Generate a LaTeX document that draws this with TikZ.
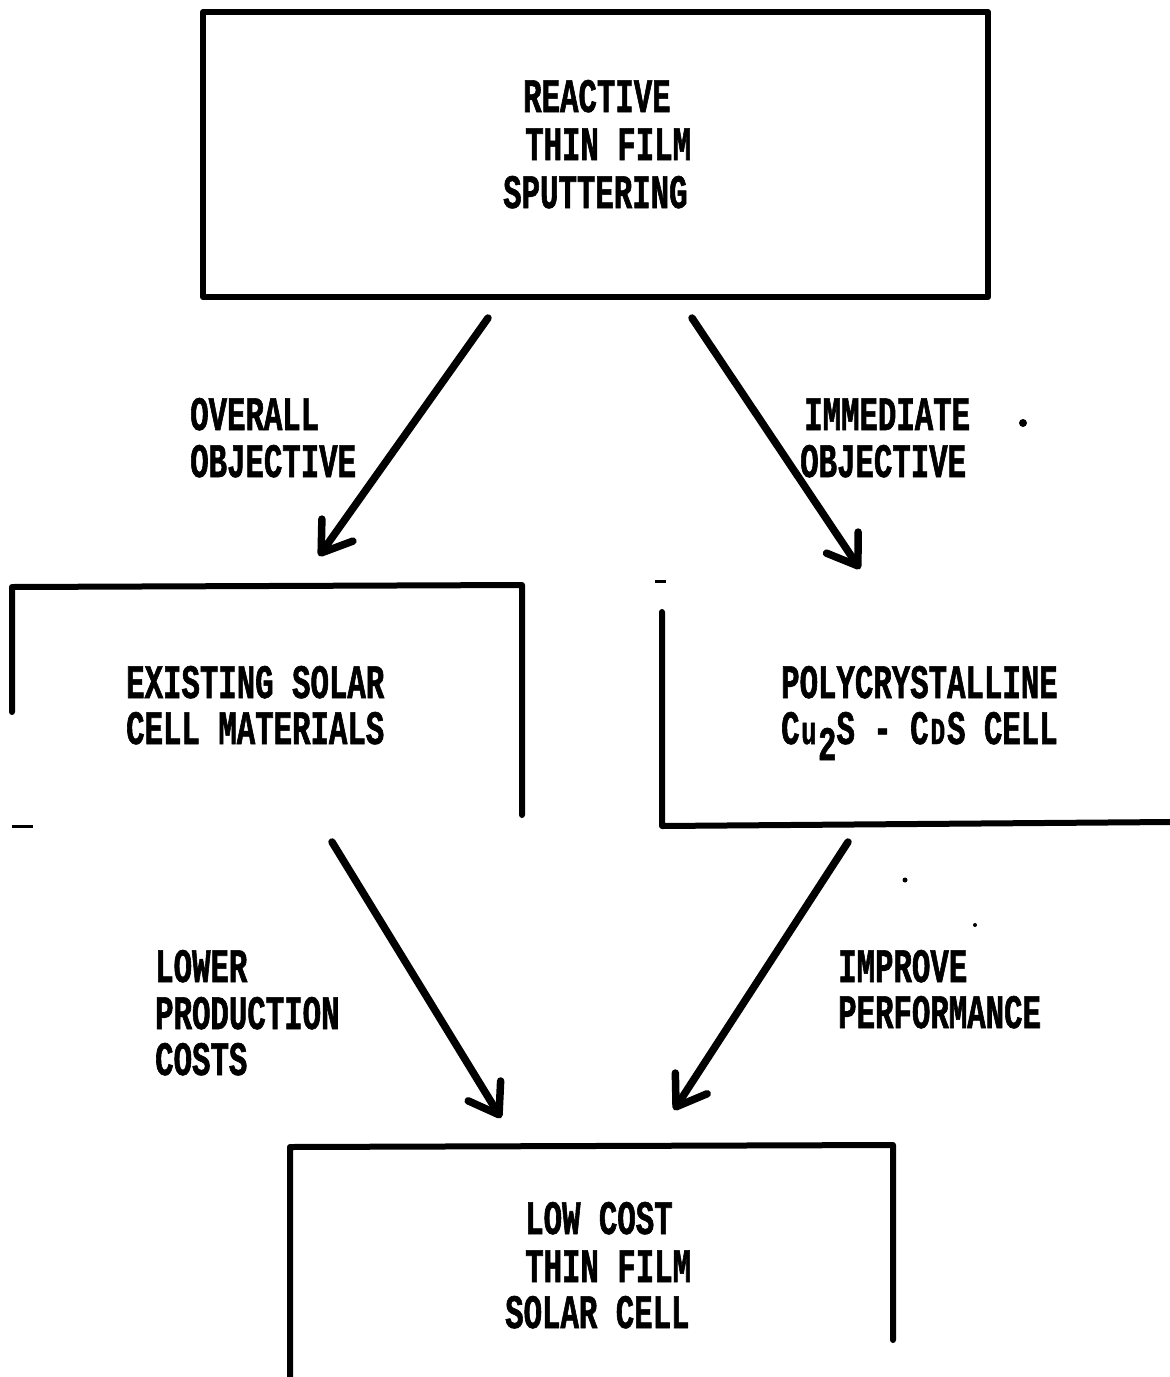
\documentclass[tikz,border=0pt]{standalone}
\usepackage{fontspec}
\newfontfamily\lettering[FakeStretch=0.64, BoldFeatures={FakeBold=1.2}]{Liberation Mono}
\usetikzlibrary{arrows.meta}
\newcommand{\slot}[1]{\makebox[18.43pt]{#1}}
\tikzset{
  lbl/.style={inner sep=0pt, anchor=base west, font=\lettering\bfseries\fontsize{48}{48}\selectfont},
  boxline/.style={line width=6pt, line cap=round, line join=round},
  flow/.style={line width=7.5pt, line cap=round, -{Straight Barb[round, length=28pt, width=38pt]}},
  speck/.style={fill=black, draw=none}
}
\begin{document}
\begin{tikzpicture}[x=1pt, y=-1pt]
\useasboundingbox (0,0) rectangle (1170,1377);
\fill[white] (0,0) rectangle (1170,1377);

% ---- boxes ----
\node[draw, boxline, minimum width=785pt, minimum height=285pt, inner sep=0pt] (top) at (595.5,154.5) {};

\coordinate (lbTL) at (12,587);
\coordinate (lbTR) at (522,585);
\draw[boxline] (12,712) -- (lbTL) -- (lbTR) -- (522,815);

\coordinate (rbBL) at (662,826);
\draw[boxline] (662,612) -- (rbBL) -- (1170,822);

\coordinate (bbTL) at (290,1147);
\coordinate (bbTR) at (893,1145);
\draw[boxline] (290,1377) -- (bbTL) -- (bbTR) -- (893,1340);

% ---- text ----
\node[lbl] (t1) at (523,112) {REACTIVE};
\node[lbl] (t2) at (525,160) {THIN FILM};
\node[lbl] (t3) at (503,208) {SPUTTERING};

\node[lbl] (o1) at (190,430) {OVERALL};
\node[lbl] (o2) at (190,477) {OBJECTIVE};

\node[lbl] (i1) at (804,430) {IMMEDIATE};
\node[lbl] (i2) at (800,477) {OBJECTIVE};

\node[lbl] (e1) at (126,698) {EXISTING SOLAR};
\node[lbl] (e2) at (126,744) {CELL MATERIALS};

\node[lbl] (p1) at (781,698) {POLYCRYSTALLINE};
\node[lbl] (p2) at (781,744) {C\slot{\fontsize{40}{40}\selectfont u}\slot{\raisebox{-16pt}{2}}S - C\slot{\fontsize{38}{38}\selectfont D}S CELL};

\node[lbl] (l1) at (155,982) {LOWER};
\node[lbl] (l2) at (155,1029) {PRODUCTION};
\node[lbl] (l3) at (155,1075) {COSTS};

\node[lbl] (m1) at (838,982) {IMPROVE};
\node[lbl] (m2) at (838,1028) {PERFORMANCE};

\node[lbl] (b1) at (525,1234) {LOW COST};
\node[lbl] (b2) at (525,1282) {THIN FILM};
\node[lbl] (b3) at (505,1328) {SOLAR CELL};

% ---- connectors ----
\coordinate (a1s) at (488,318);  \coordinate (a1e) at (319,556);
\coordinate (a2s) at (692,318);  \coordinate (a2e) at (860,569);
\coordinate (a3s) at (332,842);  \coordinate (a3e) at (501,1118);
\coordinate (a4s) at (848,842);  \coordinate (a4e) at (674,1110);
\draw[flow] (a1s) -- (a1e);
\draw[flow] (a2s) -- (a2e);
\draw[flow] (a3s) -- (a3e);
\draw[flow] (a4s) -- (a4e);

% ---- scan specks ----
\fill[speck] (1023,423) circle (4pt);
\fill[speck] (905,880) circle (2.5pt);
\fill[speck] (975,925) circle (2pt);
\draw[line width=3pt] (655,581) -- (666,581);
\draw[line width=3pt] (12,826) -- (33,826);
\end{tikzpicture}
\end{document}
